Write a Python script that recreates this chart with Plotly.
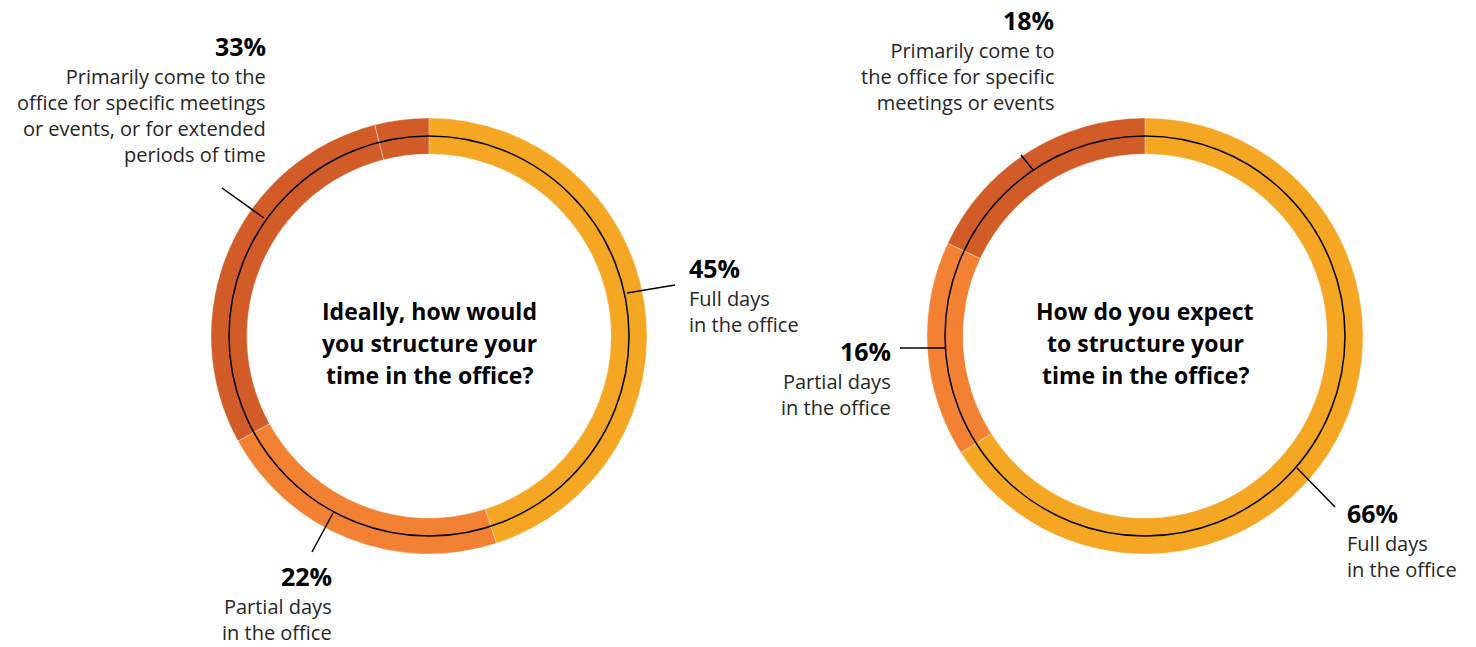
import plotly.graph_objects as go

W, H = 1476, 647

# ---- data ----
left_labels = ["Full days in the office", "Partial days in the office",
               "Specific meetings or events", "Extended periods of time"]
left_values = [45, 22, 29, 4]
left_colors = ["#F5A623", "#F28134", "#D15C28", "#D15C28"]

right_labels = ["Full days in the office", "Partial days in the office",
                "Specific meetings or events"]
right_values = [66, 16, 18]
right_colors = ["#F5A623", "#F28134", "#D15C28"]

left_title = ["Ideally, how would", "you structure your", "time in the office?"]
right_title = ["How do you expect", "to structure your", "time in the office?"]

# ---- layout helpers (pixels -> paper) ----
def px(x):
    return x / W

def py(y):
    return 1 - y / H

R_OUT = 218
CL = (429, 336)
CR = (1145, 336)

def dom(c):
    return dict(x=[px(c[0] - R_OUT), px(c[0] + R_OUT)],
                y=[py(c[1] + R_OUT), py(c[1] - R_OUT)])

fig = go.Figure()
for c, labels, values, colors in [(CL, left_labels, left_values, left_colors),
                                  (CR, right_labels, right_values, right_colors)]:
    fig.add_trace(go.Pie(
        labels=labels, values=values, hole=0.835, sort=False,
        direction="clockwise", rotation=0, textinfo="none",
        marker=dict(colors=colors, line=dict(color="rgba(255,255,255,0.35)", width=1)),
        domain=dom(c), showlegend=False,
    ))

shapes = []
R_MID = 200
for c in (CL, CR):
    shapes.append(dict(type="circle", xref="paper", yref="paper",
                       x0=px(c[0] - R_MID), x1=px(c[0] + R_MID),
                       y0=py(c[1] + R_MID), y1=py(c[1] - R_MID),
                       line=dict(color="black", width=1.5)))

leaders = [((627, 293), (675, 285)), ((333, 513), (312, 552)), ((264, 218), (222, 188)),
           ((1297, 468), (1335, 507)), ((945, 348), (900, 348)), ((1033, 170), (1021, 155))]
for a, b in leaders:
    shapes.append(dict(type="line", xref="paper", yref="paper",
                       x0=px(a[0]), y0=py(a[1]), x1=px(b[0]), y1=py(b[1]),
                       line=dict(color="black", width=1.5)))

FONT = "Open Sans"
annots = []

def label(x, y, pct, text, align):
    xa = "right" if align == "right" else "left"
    annots.append(dict(x=px(x), y=py(y), xref="paper", yref="paper", xanchor=xa, yanchor="middle",
                       text=f"<b>{pct}%</b>", showarrow=False, borderpad=0,
                       font=dict(family=FONT, size=25, color="black")))
    annots.append(dict(x=px(x), y=py(y + 16), xref="paper", yref="paper", xanchor=xa, yanchor="top",
                       text=text, align=align, showarrow=False, borderpad=0,
                       font=dict(family=FONT, size=20, color="#262626")))

label(267, 46, 33, "Primarily come to the<br>office for specific meetings<br>or events, or for extended<br>periods of time", "right")
label(688, 268, 45, "Full days<br>in the office", "left")
label(333, 576, 22, "Partial days<br>in the office", "right")
label(1055, 20, 18, "Primarily come to<br>the office for specific<br>meetings or events", "right")
label(892, 351, 16, "Partial days<br>in the office", "right")
label(1346, 513, 66, "Full days<br>in the office", "left")

for c, lines in ((CL, left_title), (CR, right_title)):
    for i, t in enumerate(lines):
        annots.append(dict(x=px(c[0]), y=py(311 + 32 * i), xref="paper", yref="paper",
                           xanchor="center", yanchor="middle", text=f"<b>{t}</b>",
                           showarrow=False, font=dict(family=FONT, size=23, color="black")))

fig.update_layout(width=W, height=H, margin=dict(l=0, r=0, t=0, b=0),
                  paper_bgcolor="white", plot_bgcolor="white",
                  shapes=shapes, annotations=annots)

fig.write_html("out.html")
